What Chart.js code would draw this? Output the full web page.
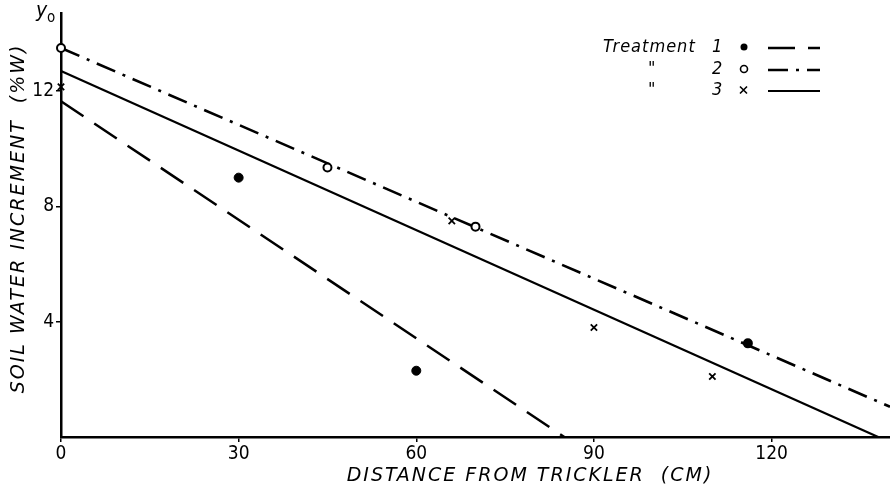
<!DOCTYPE html>
<html>
<head>
<meta charset="utf-8">
<script src="https://cdn.jsdelivr.net/npm/chart.js@4/dist/chart.umd.min.js"></script>
<style>
  html, body { margin: 0; padding: 0; background: #fff; }
  #wrap { width: 890px; height: 496px; }
</style>
</head>
<body>
<div id="wrap"><canvas id="chart" width="890" height="496"></canvas></div>
<script>
// axis ticks
const xTicks = [0, 30, 60, 90, 120];
const yTicks = [4, 8, 12];

// measured points (distance cm, increment %W)
const t1X = [30, 60];
const t1Y = [9.0, 2.3];
const t2X = [0, 45, 70, 116];
const t2Y = [13.5, 9.35, 7.3, 3.25];
const t3X = [0, 66, 90, 110];
const t3Y = [12.15, 7.5, 3.8, 2.1];

// fitted lines, end points
const fit1X = [0, 85];
const fit1Y = [11.65, 0];
const fit2X = [0, 140];
const fit2Y = [13.5, 1.05];
const fit3X = [0, 138];
const fit3Y = [12.7, 0];

const legendRows = [
  { name: 'Treatment', num: '1' },
  { name: '"', num: '2' },
  { name: '"', num: '3' },
];

const pts = (xs, ys) => xs.map((x, i) => ({ x: x, y: ys[i] }));

const TICK_FONT = { family: '"DejaVu Sans Condensed", sans-serif', size: 19 };
const TITLE_FONT = 'oblique 19px "DejaVu Sans", sans-serif';

const titlesPlugin = {
  id: 'titles',
  afterDraw(chart) {
    const ctx = chart.ctx;
    const a = chart.chartArea;
    ctx.save();
    ctx.fillStyle = '#000';
    ctx.font = TITLE_FONT;
    ctx.letterSpacing = '2px';
    ctx.textAlign = 'center';
    ctx.textBaseline = 'middle';
    // x title
    ctx.fillText('DISTANCE FROM TRICKLER  (CM)', a.left + 469, 476);
    // y title
    ctx.translate(19, a.top + 205);
    ctx.rotate(-Math.PI / 2);
    ctx.fillText('SOIL WATER INCREMENT  (%W)', 0, 0);
    ctx.restore();

    // y0 label
    ctx.save();
    ctx.fillStyle = '#000';
    ctx.font = 'oblique 21px "DejaVu Sans Condensed", sans-serif';
    ctx.textBaseline = 'alphabetic';
    ctx.fillText('y', 36, 17);
    ctx.font = '15px "DejaVu Sans Condensed", sans-serif';
    ctx.fillText('o', 47, 22);
    ctx.restore();

    // legend
    ctx.save();
    ctx.fillStyle = '#000';
    ctx.strokeStyle = '#000';
    ctx.font = 'oblique 18px "DejaVu Sans Condensed", sans-serif';
    ctx.letterSpacing = '1px';
    ctx.textBaseline = 'middle';
    const rowY = [47, 69, 90];
    const pointSets = chart.data.datasets.slice(0, 3);
    const lineSets = chart.data.datasets.slice(3, 6);
    legendRows.forEach((r, i) => {
      const y = rowY[i];
      ctx.textAlign = 'left';
      ctx.fillText(r.name, i === 0 ? 603 : 648, y);
      ctx.fillText(r.num, 712, y);
      // marker
      const ds = pointSets[i];
      ctx.lineWidth = 1.6;
      if (ds.pointStyle === 'crossRot') {
        ctx.beginPath();
        ctx.moveTo(740, y - 3.5); ctx.lineTo(747, y + 3.5);
        ctx.moveTo(747, y - 3.5); ctx.lineTo(740, y + 3.5);
        ctx.stroke();
      } else {
        ctx.beginPath();
        ctx.arc(744, y, 3.5, 0, Math.PI * 2);
        if (i === 0) ctx.fill(); else ctx.stroke();
      }
      // line sample
      const ls = lineSets[i];
      ctx.lineWidth = ls.borderWidth;
      ctx.setLineDash(ls.borderDash || []);
      ctx.beginPath();
      ctx.moveTo(768, y + 1);
      ctx.lineTo(820, y + 1);
      ctx.stroke();
      ctx.setLineDash([]);
    });
    ctx.restore();
  }
};

new Chart(document.getElementById('chart'), {
  type: 'scatter',
  data: {
    datasets: [
      {
        label: 'Treatment 1',
        data: pts(t1X, t1Y),
        pointStyle: 'circle',
        pointRadius: 4.5,
        backgroundColor: '#000',
        borderColor: '#000',
        clip: false,
      },
      {
        label: 'Treatment 2',
        data: pts(t2X, t2Y),
        pointStyle: 'circle',
        pointRadius: 4,
        borderWidth: 2,
        backgroundColor: ['#fff', '#fff', '#fff', '#000'],
        borderColor: '#000',
        clip: false,
      },
      {
        label: 'Treatment 3',
        data: pts(t3X, t3Y),
        pointStyle: 'crossRot',
        pointRadius: 4.5,
        borderWidth: 1.8,
        borderColor: '#000',
        clip: false,
      },
      {
        type: 'line',
        label: 'fit 1',
        data: pts(fit1X, fit1Y),
        borderColor: '#000',
        borderWidth: 2.5,
        borderDash: [27, 13],
        pointRadius: 0,
        clip: false,
      },
      {
        type: 'line',
        label: 'fit 2',
        data: pts(fit2X, fit2Y),
        borderColor: '#000',
        borderWidth: 2.6,
        borderDash: [20, 8, 3, 8],
        pointRadius: 0,
        clip: false,
      },
      {
        type: 'line',
        label: 'fit 3',
        data: pts(fit3X, fit3Y),
        borderColor: '#000',
        borderWidth: 2.2,
        pointRadius: 0,
        clip: false,
      },
    ],
  },
  options: {
    responsive: false,
    animation: false,
    layout: { autoPadding: false, padding: { top: 8, right: 0, left: 0, bottom: 0 } },
    plugins: {
      legend: { display: false },
      tooltip: { enabled: false },
    },
    scales: {
      x: {
        type: 'linear',
        min: 0,
        max: 140,
        afterBuildTicks: (s) => { s.ticks = xTicks.map(v => ({ value: v })); },
        afterFit: (s) => { s.height = 59; },
        border: { color: '#000', width: 2.5 },
        grid: { drawOnChartArea: false, color: '#000', tickLength: 5, lineWidth: 1.5 },
        ticks: { color: '#000', font: TICK_FONT, padding: 1, maxRotation: 0 },
      },
      y: {
        type: 'linear',
        min: 0,
        max: 14.7,
        afterBuildTicks: (s) => { s.ticks = yTicks.map(v => ({ value: v })); },
        afterFit: (s) => { s.width = 61; },
        border: { color: '#000', width: 2.5 },
        grid: { drawOnChartArea: false, color: '#000', tickLength: 5, lineWidth: 1.5 },
        ticks: { color: '#000', font: TICK_FONT, padding: 2 },
      },
    },
  },
  plugins: [titlesPlugin],
});
</script>
</body>
</html>
